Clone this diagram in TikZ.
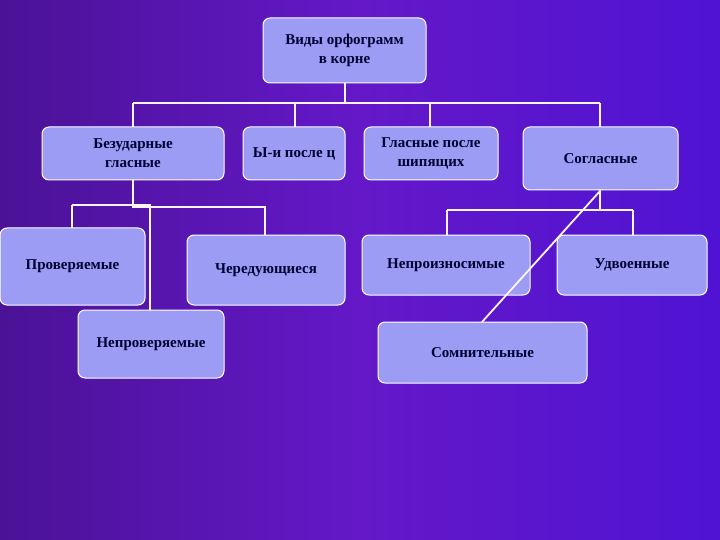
\documentclass[tikz,border=0pt]{standalone}
\usepackage{fontspec}
\setmainfont{Liberation Serif}
\begin{document}
\begin{tikzpicture}[x=1pt,y=-1pt,
  box/.style={draw=white,line width=1pt,fill=boxc,rounded corners=7pt,align=center,font=\bfseries\fontsize{15}{19}\selectfont,text=black!80!blue},
  ln/.style={draw=white!85!pink,line width=1.8pt}]
\definecolor{bg}{HTML}{6418C8}
\definecolor{boxc}{HTML}{9C9CF4}
\path[left color=bg!75!black,right color=bg!80!blue,middle color=bg] (0,0) rectangle (720,540);
\useasboundingbox (0,0) rectangle (720,540);
\def\bx#1#2#3#4#5#6{\node[box,minimum width=#4-#2,minimum height=#5-#3,inner sep=0pt] (#1) at ({(#2+#4)/2},{(#3+#5)/2}) {#6};}
\coordinate (h0) at (345,103);
\coordinate (h1) at (133,103);
\coordinate (h2) at (295,103);
\coordinate (h3) at (430,103);
\coordinate (h4) at (600,103);
\coordinate (b1) at (133,207);
\coordinate (b2) at (72,205);
\coordinate (b3) at (150,205);
\coordinate (b4) at (265,207);
\coordinate (c1) at (600,210);
\coordinate (c2) at (447,210);
\coordinate (c3) at (633,210);
\draw[ln] (345,83) -- (h0);
\draw[ln] (h1) -- (h4);
\draw[ln] (h1) -- (133,127) (h2) -- (295,127) (h3) -- (430,127) (h4) -- (600,127);
\draw[ln] (133,180) -- (b1) -- (b4) -- (265,235);
\draw[ln] (b2) -- (b3) -- (150,310);
\draw[ln] (b2) -- (72,228);
\draw[ln] (600,190) -- (c1);
\draw[ln] (c2) -- (c3);
\draw[ln] (c2) -- (447,235) (c3) -- (633,235);
\bx{top}{263}{18}{426}{83}{Виды орфограмм\\в корне}
\bx{bez}{42}{127}{224}{180}{Безударные\\гласные}
\bx{yi}{243}{127}{345}{180}{Ы-и после ц}
\bx{gl}{364}{127}{498}{180}{Гласные после\\шипящих}
\bx{sog}{523}{127}{678}{190}{Согласные}
\bx{pro}{0}{228}{145}{305}{Проверяемые}
\bx{che}{187}{235}{345}{305}{Чередующиеся}
\bx{nep}{78}{310}{224}{378}{Непроверяемые}
\bx{npr}{362}{235}{530}{295}{Непроизносимые}
\bx{udv}{557}{235}{707}{295}{Удвоенные}
\bx{som}{378}{322}{587}{383}{Сомнительные}
\draw[ln] (sog.south) -- (482,322);
\end{tikzpicture}
\end{document}
